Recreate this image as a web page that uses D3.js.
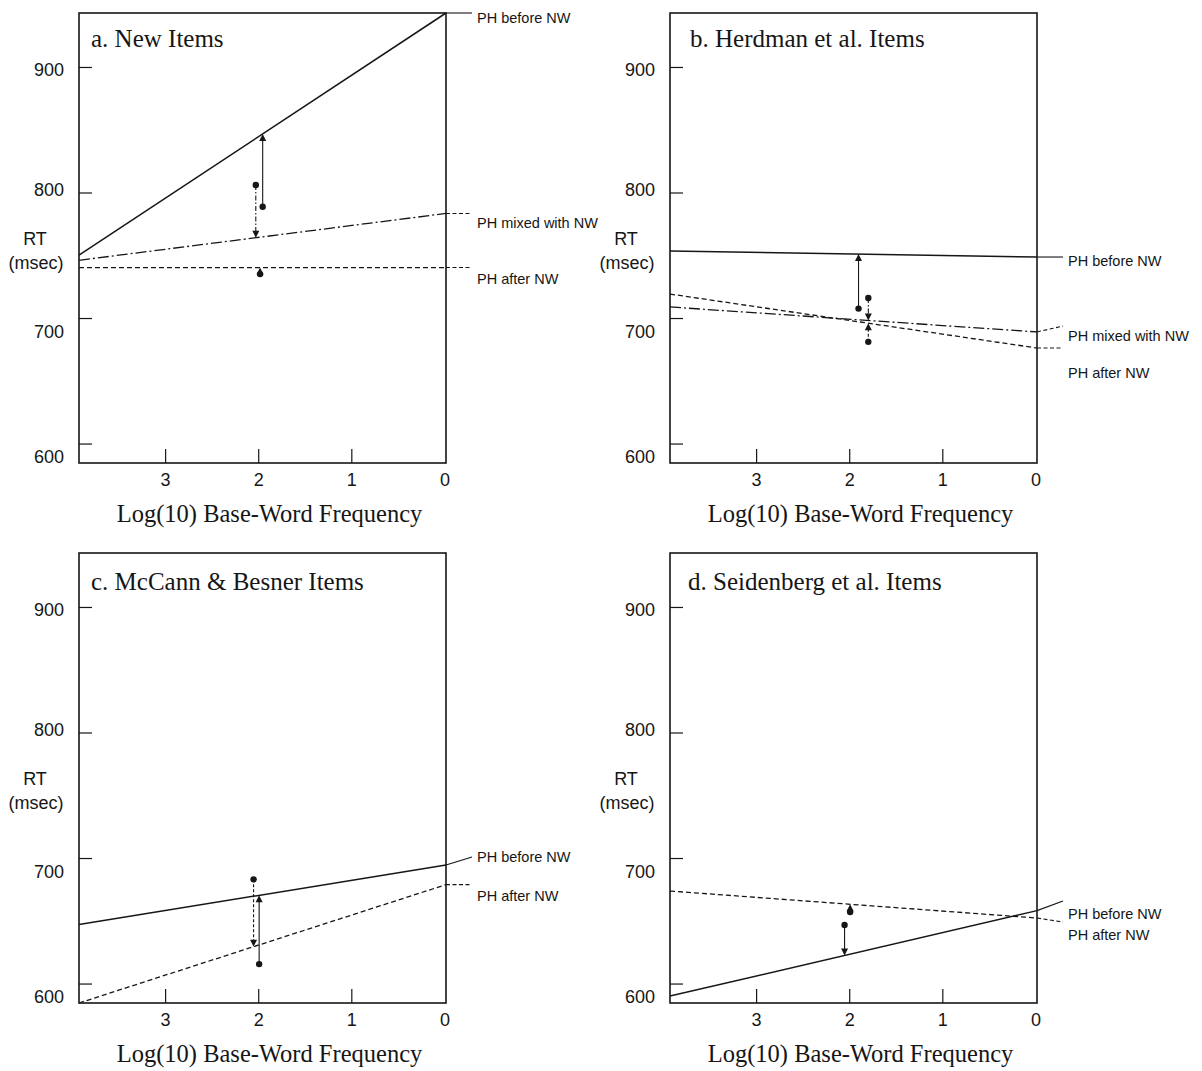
<!DOCTYPE html>
<html><head><meta charset="utf-8">
<script src="https://cdn.jsdelivr.net/npm/d3@7"></script>
<style>body{margin:0;background:#fff}</style>
</head><body><svg id="c" width="1202" height="1071"></svg>
<script>
// ---------- data ----------
const panelTitles = ["a. New Items", "b. Herdman et al. Items", "c. McCann & Besner Items", "d. Seidenberg et al. Items"];
const xTickValues = [3, 2, 1, 0];
const yTickValues = [600, 700, 800, 900];
const xAxisTitle = "Log(10) Base-Word Frequency";
const yAxisTitle = ["RT", "(msec)"];
const xDomain = [3.925, -0.017];
const yDomain = [584.5, 943];

// regression lines: RT at left edge, RT at right edge, RT where the label leader ends
const linesA = [
  {label: "PH before NW", style: "solid", left: 750.2, right: 943, lead: 943},
  {label: "PH mixed with NW", style: "dashdot", left: 746, right: 783.3, lead: 783.3},
  {label: "PH after NW", style: "dashed", left: 740.2, right: 740.2, lead: 740.2}
];
const linesB = [
  {label: "PH before NW", style: "solid", left: 753.4, right: 748.6, lead: 748.6},
  {label: "PH mixed with NW", style: "dashdot", left: 708.8, right: 688.9, lead: 693.6},
  {label: "PH after NW", style: "dashed", left: 719.1, right: 676.1, lead: 676.1}
];
const linesC = [
  {label: "PH before NW", style: "solid", left: 647, right: 694.4, lead: 700.8},
  {label: "PH after NW", style: "dashed", left: 584.5, right: 678.8, lead: 678.8}
];
const linesD = [
  {label: "PH before NW", style: "solid", left: 590, right: 658.1, lead: 665.7},
  {label: "PH after NW", style: "dashed", left: 673.7, right: 652.2, lead: 649}
];

// observed means (log frequency, RT); each is linked to the line of the same style
const pointsA = [
  {style: "dashdot", x: 2.026, rt: 806},
  {style: "solid", x: 1.952, rt: 788.7},
  {style: "dashed", x: 1.98, rt: 735}
];
const pointsB = [
  {style: "solid", x: 1.90, rt: 707.5},
  {style: "dashdot", x: 1.795, rt: 716},
  {style: "dashed", x: 1.795, rt: 681}
];
const pointsC = [
  {style: "dashed", x: 2.05, rt: 683},
  {style: "solid", x: 1.99, rt: 615.5}
];
const pointsD = [
  {style: "dashed", x: 1.99, rt: 657},
  {style: "solid", x: 2.05, rt: 646.6}
];

// ---------- layout ----------
const W = 367, H = 450;
const origins = [[79, 13], [670, 13], [79, 553], [670, 553]];
const titleOffset = [[12, 34], [20, 34], [12, 37], [18, 37]];
const labelDy = [[4.6, 9.5, 11], [4, 10, 25], [0, 11.4], [13, 12.6]];
const tickLabelDy = {600: 13, 700: 13, 800: -3, 900: 2};
const allLines = [linesA, linesB, linesC, linesD];
const allPoints = [pointsA, pointsB, pointsC, pointsD];
const lineDash = {solid: null, dashed: "5,3", dashdot: "11,3,2,3"};
const segDash = {solid: null, dashed: "3,2", dashdot: "5,2,1.5,2"};
const SANS = "'Liberation Sans', Arial, Helvetica, sans-serif";
const SERIF = "'Liberation Serif', 'Times New Roman', serif";
const INK = "#161616";

const svg = d3.select("#c");
svg.append("rect").attr("width", 1202).attr("height", 1071).attr("fill", "#fff");

panelTitles.forEach((title, i) => {
  const g = svg.append("g").attr("transform", `translate(${origins[i][0]},${origins[i][1]})`);
  const x = d3.scaleLinear().domain(xDomain).range([0, W]);
  const y = d3.scaleLinear().domain(yDomain).range([H, 0]);

  // y axis
  const ya = g.append("g").call(
    d3.axisLeft(y).tickValues(yTickValues).tickSizeInner(-13).tickSizeOuter(0)
      .tickPadding(15).tickFormat(d3.format("d")));
  ya.select(".domain").remove();
  ya.selectAll(".tick line").attr("stroke", INK).attr("stroke-width", 1.2);
  ya.selectAll(".tick text")
    .attr("font-family", SANS).attr("font-size", 18).attr("fill", INK)
    .attr("dy", d => (0.34 * 18 + tickLabelDy[d]) + "px");

  // x axis
  const xa = g.append("g").attr("transform", `translate(0,${H})`).call(
    d3.axisBottom(x).tickValues(xTickValues).tickSizeInner(-14).tickSizeOuter(0)
      .tickPadding(10.5).tickFormat(d3.format("d")));
  xa.select(".domain").remove();
  xa.selectAll(".tick line").attr("stroke", INK).attr("stroke-width", 1.2)
    .attr("display", d => d === 0 ? "none" : null);
  xa.selectAll(".tick text")
    .attr("font-family", SANS).attr("font-size", 18).attr("fill", INK);

  // frame
  g.append("rect").attr("width", W).attr("height", H)
    .attr("fill", "none").attr("stroke", INK).attr("stroke-width", 1.6);

  // title
  g.append("text").attr("x", titleOffset[i][0]).attr("y", titleOffset[i][1])
    .attr("font-family", SERIF).attr("font-size", 25).attr("fill", INK).text(title);

  // axis titles
  g.append("text").attr("x", W / 2 + 7).attr("y", H + 59).attr("text-anchor", "middle")
    .attr("font-family", SERIF).attr("font-size", 24.5).attr("fill", INK).text(xAxisTitle);
  g.append("text").attr("x", -44).attr("y", 231.5).attr("text-anchor", "middle")
    .attr("font-family", SANS).attr("font-size", 18).attr("fill", INK).text(yAxisTitle[0]);
  g.append("text").attr("x", -43).attr("y", 256).attr("text-anchor", "middle")
    .attr("font-family", SANS).attr("font-size", 18).attr("fill", INK).text(yAxisTitle[1]);

  // regression lines
  const line = d3.line().x(d => x(d[0])).y(d => y(d[1]));
  const lines = allLines[i];
  lines.forEach((L, j) => {
    g.append("path").datum([[xDomain[0], L.left], [xDomain[1], L.right]])
      .attr("d", line).attr("fill", "none").attr("stroke", INK)
      .attr("stroke-width", L.style === "solid" ? 1.5 : 1.3)
      .attr("stroke-dasharray", lineDash[L.style]);
    // leader to label
    g.append("path")
      .attr("d", `M${W},${y(L.right)}L${W + 26},${y(L.lead)}`)
      .attr("fill", "none").attr("stroke", INK).attr("stroke-width", 1.1)
      .attr("stroke-dasharray", L.style === "solid" ? null : "4,2.5");
    g.append("text").attr("x", W + 31).attr("y", y(L.lead) + labelDy[i][j])
      .attr("dominant-baseline", "central")
      .attr("font-family", SANS).attr("font-size", 14.5).attr("fill", INK).text(L.label);
  });

  // observed means with arrows to predicted line values
  const lineAt = (L, xv) => L.right + (L.left - L.right) * (xv - xDomain[1]) / (xDomain[0] - xDomain[1]);
  allPoints[i].forEach(p => {
    const L = lines.find(l => l.style === p.style);
    const pred = lineAt(L, p.x);
    const px = x(p.x), py = y(p.rt), ty = y(pred);
    const dir = ty < py ? 1 : -1; // arrow points up when 1
    g.append("line").attr("x1", px).attr("x2", px).attr("y1", py).attr("y2", ty + dir * 5)
      .attr("stroke", INK).attr("stroke-width", 1.1).attr("stroke-dasharray", segDash[p.style]);
    g.append("path")
      .attr("d", `M${px},${ty}L${px - 3.5},${ty + dir * 7}L${px + 3.5},${ty + dir * 7}Z`)
      .attr("fill", INK);
    g.append("circle").attr("cx", px).attr("cy", py).attr("r", 3.2).attr("fill", INK);
  });
});
</script>
</body></html>
